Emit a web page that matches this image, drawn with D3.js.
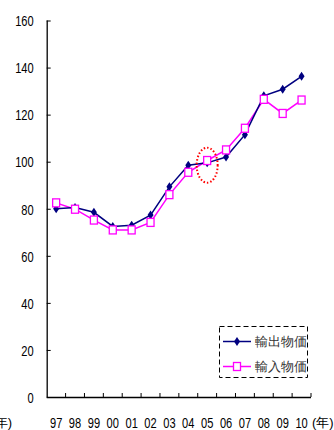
<!DOCTYPE html>
<html><head><meta charset="utf-8">
<script src="https://cdn.jsdelivr.net/npm/d3@7/dist/d3.min.js"></script>
<style>
body{margin:0;background:#fff;}
svg text{font-family:"Liberation Sans",Arial,sans-serif;}
</style></head><body>
<svg id="c" width="334" height="430"></svg>
<script>
const years = ["97","98","99","00","01","02","03","04","05","06","07","08","09","10"];
const exportPrices = [80,80.5,78.5,72.5,73,77.3,89.3,98.5,99.5,102,111.5,128,130.8,136.3];
const importPrices = [82.5,79.8,75.2,71,71,74.2,86,95.5,100.5,105,114.2,126.5,120.5,126.2];
const yTicks = [0,20,40,60,80,100,120,140,160];
const seriesNames = ["輸出物価","輸入物価"];
const unitLabel = "(年)";
const highlightYear = "05", highlightValue = 98.5;

(function(){
const svg = d3.select("#c");
const mLeft = 46.7, mRight = 311, mTop = 20.5, mBottom = 397;
const x = d3.scaleBand().domain(years).range([mLeft, mRight]);
const y = d3.scaleLinear().domain([0,160]).range([mBottom, mTop]);
const cx = d => x(d) + x.bandwidth()/2;
const sx = 0.74;

// Y axis
const yAxis = d3.axisRight(y).tickValues(yTicks).tickSize(4).tickFormat(d3.format("d"));
const ya = svg.append("g").attr("transform",`translate(${mLeft},0)`).call(yAxis);
ya.select(".domain").attr("d",`M0.5,${mTop}V${mBottom}`).attr("stroke","#000").attr("stroke-width",1.3);
ya.selectAll(".tick line").attr("stroke","#000");
ya.selectAll(".tick text").attr("x",0).attr("text-anchor","end").attr("font-size",15).attr("fill","#000").attr("dy","0.35em")
  .attr("transform",`translate(-13,0) scale(${sx},1)`);

// X axis: ticks at category boundaries
const xg = svg.append("g");
xg.append("line").attr("x1",mLeft).attr("x2",mRight).attr("y1",mBottom+0.5).attr("y2",mBottom+0.5).attr("stroke","#000").attr("stroke-width",1.3);
const bounds = years.map(d=>x(d)+x.bandwidth());
xg.selectAll(".xt").data(bounds).enter().append("line")
  .attr("x1",d=>d).attr("x2",d=>d).attr("y1",mBottom).attr("y2",mBottom-4).attr("stroke","#000");
xg.selectAll(".xl").data(years).enter().append("text")
  .attr("transform",d=>`translate(${cx(d)},428) scale(${sx},1)`).attr("text-anchor","middle").attr("font-size",15).text(d=>d);
svg.append("text").attr("x",mRight+1).attr("y",427).attr("font-size",13).attr("font-family","'Noto Sans CJK JP',sans-serif").text(unitLabel);
svg.append("text").attr("x",12).attr("y",427).attr("text-anchor","end").attr("font-size",13).attr("font-family","'Noto Sans CJK JP',sans-serif").text(unitLabel);

// Lines
const line = d3.line().x((d,i)=>cx(years[i])).y(d=>y(d));
svg.append("path").datum(importPrices).attr("d",line).attr("fill","none").attr("stroke","#FF00FF").attr("stroke-width",1.5);
svg.append("path").datum(exportPrices).attr("d",line).attr("fill","none").attr("stroke","#000080").attr("stroke-width",1.5);

const diamond = "M0,-4.5L3,0L0,4.5L-3,0Z";
svg.selectAll(".ex").data(exportPrices).enter().append("path")
  .attr("d",diamond).attr("transform",(d,i)=>`translate(${cx(years[i])},${y(d)})`).attr("fill","#000080");
svg.selectAll(".im").data(importPrices).enter().append("rect")
  .attr("x",(d,i)=>cx(years[i])-3.5).attr("y",d=>y(d)-4).attr("width",7).attr("height",8)
  .attr("fill","#fff").attr("stroke","#FF00FF").attr("stroke-width",1.3);

// Highlight ellipse
svg.append("ellipse").attr("cx",cx(highlightYear)).attr("cy",y(highlightValue)).attr("rx",10.5).attr("ry",17.5)
  .attr("fill","none").attr("stroke","#FF0000").attr("stroke-width",2).attr("stroke-dasharray","1.5,2");

// Legend
const lg = svg.append("g");
lg.append("rect").attr("x",219.5).attr("y",326.5).attr("width",88).attr("height",51)
  .attr("fill","#fff").attr("stroke","#000").attr("stroke-dasharray","5,3");
const cols = ["#000080","#FF00FF"];
seriesNames.forEach((n,i)=>{
  const yy = 341.5 + i*25;
  lg.append("line").attr("x1",223).attr("x2",251).attr("y1",yy).attr("y2",yy).attr("stroke",cols[i]).attr("stroke-width",1.5);
  if(i===0) lg.append("path").attr("d",diamond).attr("transform",`translate(237,${yy})`).attr("fill",cols[0]);
  else lg.append("rect").attr("x",233.5).attr("y",yy-4).attr("width",7).attr("height",8).attr("fill","#fff").attr("stroke",cols[1]).attr("stroke-width",1.3);
  lg.append("text").attr("x",255).attr("y",yy).attr("dy","0.35em").attr("font-size",13)
    .attr("font-family","'Noto Sans CJK JP',sans-serif").attr("fill","#333").text(n);
});
})();
</script></body></html>
